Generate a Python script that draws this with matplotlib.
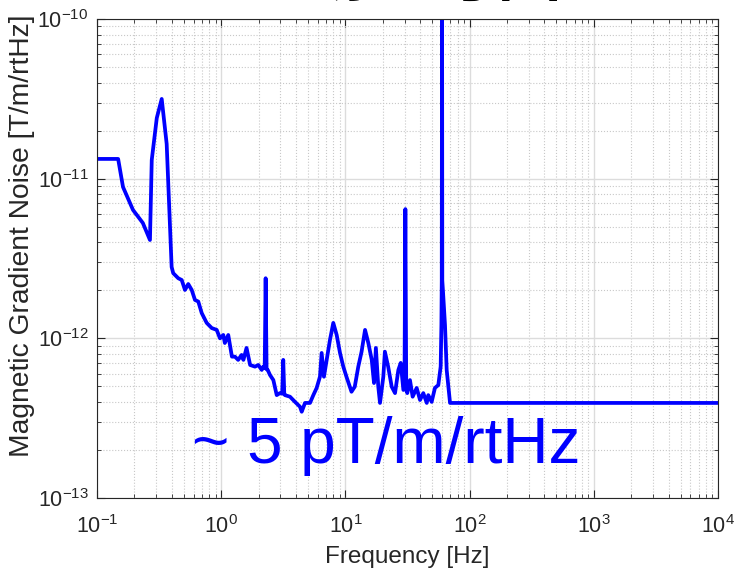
import matplotlib
matplotlib.use("Agg")
import matplotlib.pyplot as plt
from matplotlib.ticker import LogLocator, NullFormatter

plt.rcParams['font.family'] = ['Liberation Sans', 'Noto Sans CJK SC', 'DejaVu Sans']
plt.rcParams['mathtext.default'] = 'regular'

# Frequency [Hz] and noise [T/m/rtHz]
freq = [0.1, 0.148, 0.162, 0.195, 0.234, 0.267, 0.276, 0.303, 0.332, 0.364,
        0.399, 0.411, 0.451, 0.481, 0.511, 0.543, 0.579, 0.615, 0.654, 0.697,
        0.764, 0.839, 0.920, 0.978, 1.04, 1.07, 1.14, 1.22, 1.29, 1.37,
        1.46, 1.51, 1.60, 1.71, 1.87, 1.99, 2.12, 2.18, 2.24, 2.28,
        2.32, 2.37, 2.47, 2.63, 2.80, 2.97, 3.10, 3.16, 3.22, 3.26,
        3.58, 3.93, 4.31, 4.45, 4.73, 5.19, 5.52, 5.87, 6.24, 6.44,
        6.72, 7.07, 7.51, 7.99, 8.51, 9.05, 9.62, 10.2, 11.2, 11.9,
        12.7, 13.5, 14.4, 15.3, 16.3, 17.0, 17.6, 18.4, 19.0, 20.2,
        20.8, 22.1, 23.6, 25.1, 26.7, 27.9, 29.3, 29.9, 30.4, 30.9,
        31.5, 33.1, 34.8, 37.5, 39.9, 42.4, 45.2, 46.5, 49.5, 52.6,
        56.0, 58.5, 59.3, 59.7, 60.0, 60.3, 61.0, 63.4, 65.4, 69.6,
        1e4]
noise = [1.33e-11, 1.33e-11, 8.87e-12, 6.37e-12, 5.28e-12, 4.13e-12, 1.31e-11, 2.40e-11, 3.16e-11, 1.65e-11,
         2.80e-12, 2.56e-12, 2.38e-12, 2.32e-12, 2.01e-12, 2.19e-12, 2.01e-12, 1.74e-12, 1.70e-12, 1.44e-12,
         1.25e-12, 1.16e-12, 1.13e-12, 1.00e-12, 1.05e-12, 9.35e-13, 1.05e-12, 7.68e-13, 7.68e-13, 7.33e-13,
         7.87e-13, 7.33e-13, 8.71e-13, 6.81e-13, 6.65e-13, 6.81e-13, 6.34e-13, 6.65e-13, 6.50e-13, 2.38e-12,
         6.40e-13, 6.34e-13, 5.90e-13, 5.48e-13, 4.41e-13, 4.54e-13, 4.50e-13, 7.33e-13, 4.50e-13, 4.41e-13,
         4.31e-13, 4.00e-13, 3.73e-13, 3.47e-13, 3.94e-13, 3.94e-13, 4.41e-13, 4.89e-13, 5.75e-13, 8.10e-13,
         5.75e-13, 7.33e-13, 9.77e-13, 1.25e-12, 1.05e-12, 8.10e-13, 6.65e-13, 5.75e-13, 4.63e-13, 4.98e-13,
         6.65e-13, 8.25e-13, 1.13e-12, 9.35e-13, 7.33e-13, 5.25e-13, 8.71e-13, 4.98e-13, 3.94e-13, 5.75e-13,
         8.25e-13, 6.65e-13, 4.98e-13, 4.54e-13, 6.34e-13, 7.02e-13, 4.75e-13, 4.80e-13, 6.45e-12, 4.80e-13,
         4.54e-13, 5.48e-13, 4.31e-13, 4.89e-13, 4.11e-13, 4.54e-13, 3.94e-13, 4.41e-13, 4.00e-13, 4.89e-13,
         5.10e-13, 6.65e-13, 1.21e-12, 2.30e-12, 3.0e-10, 2.30e-12, 2.00e-12, 1.21e-12, 6.34e-13, 3.94e-13,
         3.94e-13]

title_text = "磁场一号图"
note_text = "~ 5 pT/m/rtHz"

fig = plt.figure(figsize=(7.37, 5.77), dpi=100)
ax = fig.add_axes([0.1316, 0.1369, 0.8426, 0.8301])

ax.loglog(freq, noise, color='#0000ff', linewidth=2.7)
ax.set_xlim(0.1, 1e4)
ax.set_ylim(1e-13, 1e-10)

# MATLAB-like box, grid and ticks
ax.xaxis.set_major_locator(LogLocator(base=10, numticks=10))
ax.yaxis.set_major_locator(LogLocator(base=10, numticks=10))
ax.xaxis.set_minor_locator(LogLocator(base=10, subs=range(2, 10), numticks=20))
ax.yaxis.set_minor_locator(LogLocator(base=10, subs=range(2, 10), numticks=20))
ax.xaxis.set_minor_formatter(NullFormatter())
ax.yaxis.set_minor_formatter(NullFormatter())
ax.grid(True, which='major', color='#dcdcdc', linewidth=1.0, linestyle='-')
ax.grid(True, which='minor', color='#c8c8c8', linewidth=0.8, linestyle=':')
ax.set_axisbelow(True)
ax.tick_params(which='both', direction='in', top=True, right=True, colors='#262626',
               labelsize=15.5)
ax.tick_params(axis='x', pad=12)
ax.tick_params(axis='y', pad=6)
ax.tick_params(which='major', length=6, width=0.8)
ax.tick_params(which='minor', length=3, width=0.6)
for s in ax.spines.values():
    s.set_color('#262626')
    s.set_linewidth(0.8)

ax.set_xlabel('Frequency [Hz]', fontsize=17.5, color='#262626', labelpad=6)
ax.set_ylabel('Magnetic Gradient Noise [T/m/rtHz]', fontsize=20.3, color='#262626')
ax.yaxis.set_label_coords(-0.100, 0.547)

ax.text(0.153, 0.073, note_text, transform=ax.transAxes, color='#0000ff',
        fontsize=46, va='baseline', ha='left')

fig.text(0.546, 1.009, title_text, fontsize=46, fontweight='bold',
         ha='center', va='baseline', family=['Noto Sans CJK SC', 'DejaVu Sans'])

fig.savefig('out.png', dpi=100)
